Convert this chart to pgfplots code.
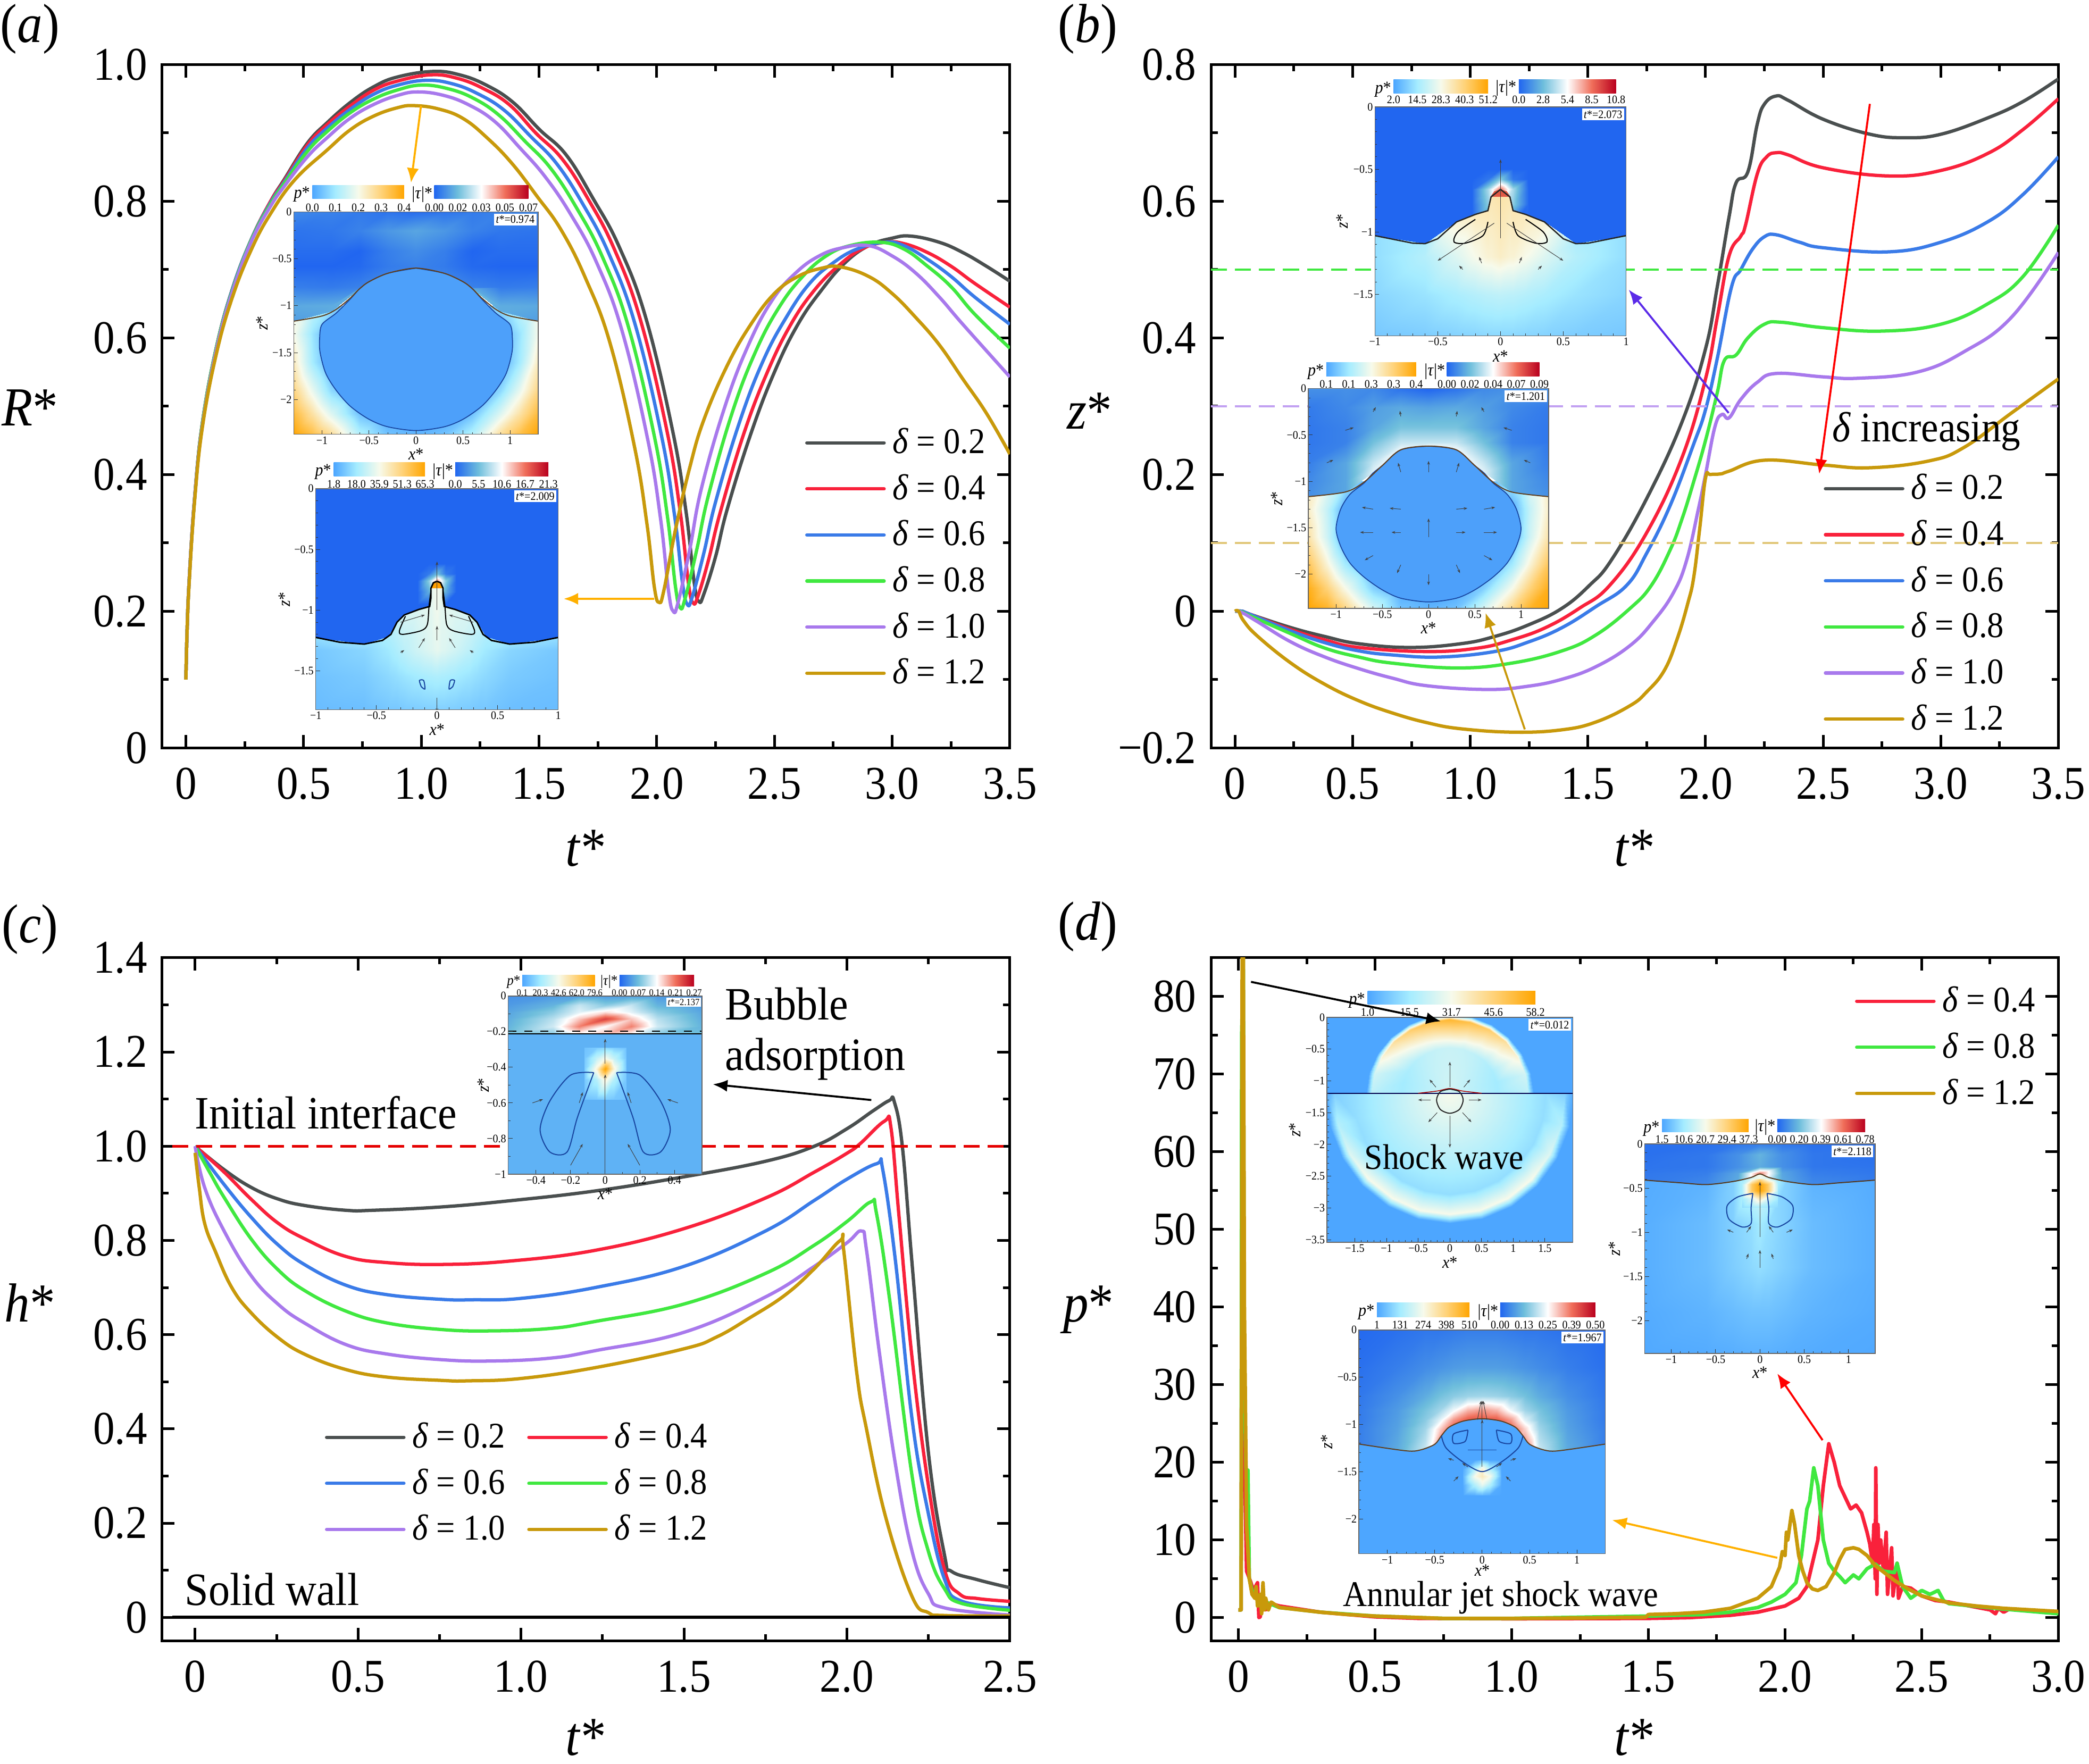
\documentclass[border=0pt]{standalone}
\usepackage{fontspec}
\setmainfont[FakeStretch=0.92]{Liberation Serif}
\usepackage{pgfplots}
\pgfplotsset{compat=1.18}
\usetikzlibrary{arrows.meta}

\definecolor{cg}{RGB}{74,79,79}
\definecolor{cr}{RGB}{249,33,59}
\definecolor{cb}{RGB}{58,123,232}
\definecolor{cv}{RGB}{64,232,64}
\definecolor{cp}{RGB}{168,121,236}
\definecolor{cy}{RGB}{200,153,11}
\definecolor{arrowy}{RGB}{255,176,0}
\definecolor{arrowv}{RGB}{91,43,232}
\definecolor{capred}{RGB}{225,90,70}
\definecolor{pale}{RGB}{95,178,245}
\definecolor{bub}{RGB}{77,160,250}
\definecolor{bubline}{RGB}{25,70,160}
\definecolor{deep}{RGB}{33,102,240}
\definecolor{water}{RGB}{77,166,255}
\definecolor{pa}{RGB}{77,166,255}\definecolor{pb}{RGB}{165,236,255}\definecolor{pc}{RGB}{247,250,235}\definecolor{pd}{RGB}{255,210,120}\definecolor{pe}{RGB}{255,165,0}
\definecolor{ta}{RGB}{33,102,240}\definecolor{tb}{RGB}{110,190,220}\definecolor{tc}{RGB}{255,255,255}\definecolor{td}{RGB}{240,110,90}\definecolor{te}{RGB}{185,0,30}

\pgfdeclarehorizontalshading{pbar}{100bp}{color(0bp)=(pa); color(25bp)=(pa); color(37.5bp)=(pb); color(50bp)=(pc); color(62.5bp)=(pd); color(75bp)=(pe); color(100bp)=(pe)}
\pgfdeclarehorizontalshading{tbar}{100bp}{color(0bp)=(ta); color(25bp)=(ta); color(37.5bp)=(tb); color(50bp)=(tc); color(62.5bp)=(td); color(75bp)=(te); color(100bp)=(te)}

% sizes are given as the width-equivalent size; the condensed face is set taller
\newcommand{\fs}[1]{\pgfmathsetmacro\fsz{#1*1.087}\fontsize{\fsz}{\fsz}\selectfont}
\newcommand{\dl}[1]{\textit{δ} = #1}

\pgfplotsset{
  colormap={pm}{rgb255=(77,166,255) rgb255=(165,236,255) rgb255=(247,250,235) rgb255=(255,210,120) rgb255=(255,165,0)},
  colormap={tm}{rgb255=(33,102,240) rgb255=(110,190,220) rgb255=(255,255,255) rgb255=(240,110,90) rgb255=(185,0,30)},
  box/.code n args={4}{%
    \pgfmathsetmacro\bw{(#2-#1)*0.5}\pgfmathsetmacro\bh{(#4-#3)*0.5}%
    \pgfmathsetmacro\bx{#1*0.5}\pgfmathsetmacro\by{(1323.7-#4)*0.5}%
    \pgfplotsset{at={(\bx pt,\by pt)},width=\bw pt,height=\bh pt}},
  mainax/.style={scale only axis,anchor=south west,
    axis line style={line width=1pt},
    tick style={line width=1pt,black},
    major tick length=4.8pt,minor tick length=2.5pt,tick align=inside,
    tick label style={font=\fs{16.2}},
    xticklabel style={yshift=-4pt},
    yticklabel style={xshift=-2pt},
    legend cell align=left,
    legend image code/.code={\draw[##1,line width=1.25pt,line cap=round] (0pt,0pt) -- (29pt,0pt);},
    every axis x label/.style={at={(axis description cs:0.5,-0.147)},anchor=center,font=\fs{19},inner sep=0pt},
  },
  lg/.style={legend style={draw=none,fill=none,inner sep=0pt,font=\fs{12.5},
    row sep=6.3pt,nodes={inner sep=0pt},at={(#1)},anchor=north west,
    /tikz/every odd column/.append style={column sep=2.5pt}}},
  cu/.style={line width=1.25pt,no markers,smooth,tension=0.7,line join=round},
  nz/.style={line width=1.35pt,no markers,line join=round},
  inset/.style={scale only axis,anchor=south west,axis on top,enlargelimits=false,
    axis line style={line width=.3pt,color=black!60},
    tick style={line width=.2pt,black!80},
    major tick length=1.6pt,minor tick length=.8pt,tick align=inside,
    xtick pos=bottom,ytick pos=left,
    tick label style={font=\fs{4},inner sep=.6pt},
    point meta min=0,point meta max=1,
    every axis x label/.style={at={(axis description cs:0.5,-0.09)},anchor=center,font=\fs{6},inner sep=0pt},
    every axis y label/.style={at={(axis description cs:-0.13,0.5)},anchor=center,rotate=90,font=\fs{6},inner sep=0pt},
    xlabel={\textit{x}*},ylabel={\textit{z}*},
  },
  ps/.style={surf,shader=interp,colormap name=pm,mesh/cols=#1,point meta=explicit},
  ts/.style={surf,shader=interp,colormap name=tm,mesh/cols=#1,point meta=explicit},
  arw/.style={quiver={u=\thisrow{u},v=\thisrow{v}},-{Stealth[length=1.4pt,width=1pt]},line width=.2pt,black!75,no markers},
  lb/.style={line width=.4pt,bubline,no markers,smooth},
  lk/.style={line width=.4pt,black,no markers,smooth},
  fl/.style={draw=none,fill=#1,no markers},
}

% bar: x0 x1 y0 y1 shading, tick labels at y
\newcommand{\lbl}{4}
\newcommand{\cbar}[7]{%
  \shade[shading=#5] (#1,#3) rectangle (#2,#4);
  \foreach \v [count=\i] in {#7}{\pgfmathsetmacro\xx{#1+(#2-#1)*(\i-1)/4}
    \node[font=\fs{\lbl},inner sep=0pt] at (\xx,#6) {\v};}}

\begin{document}
\begin{tikzpicture}
\path[use as bounding box] (0,0) rectangle (784pt,661.85pt);

% ---------- (a)
\begin{axis}[mainax,lg={0.758,0.4687},box={121.5}{758}{48.5}{561.4},
  xmin=-0.102,xmax=3.5,ymin=0,ymax=1,
  xtick={0,0.5,1,1.5,2,2.5,3,3.5},xticklabels={0,0.5,1.0,1.5,2.0,2.5,3.0,3.5},
  ytick={0,0.2,0.4,0.6,0.8,1},yticklabels={0,0.2,0.4,0.6,0.8,1.0},
  minor x tick num=1,minor y tick num=1,
  xlabel={\textit{t}*},
  ylabel={\textit{R}*},
  every axis y label/.style={at={(axis description cs:-0.1555,0.498)},anchor=center,font=\fs{19},inner sep=0pt},
  legend entries={\dl{0.2},\dl{0.4},\dl{0.6},\dl{0.8},\dl{1.0},\dl{1.2}},
]
\addplot[cu,cg] coordinates {(0,.1)(.005,.17)(.014,.245)(.037,.365)(.07,.475)(.129,.585)(.198,.672)(.279,.745)(.36,.8)(.418,.832)(.516,.885)(.6,.915)(.7,.945)(.8,.968)(.9,.982)(1.05,.99)(1.163,.985)(1.276,.97)(1.389,.945)(1.502,.905)(1.615,.868)(1.728,.805)(1.841,.733)(1.954,.629)(2.067,.465)(2.124,.347)(2.16,.24)(2.18,.214)(2.2,.225)(2.25,.28)(2.3,.35)(2.4,.46)(2.5,.55)(2.6,.62)(2.7,.67)(2.8,.71)(2.9,.735)(3,.746)(3.08,.749)(3.2,.74)(3.3,.725)(3.4,.705)(3.5,.683)};
\addplot[cu,cr] coordinates {(0,.1)(.005,.17)(.014,.245)(.037,.365)(.07,.475)(.129,.585)(.198,.672)(.279,.745)(.36,.8)(.418,.83)(.516,.882)(.6,.912)(.7,.94)(.8,.963)(.9,.976)(1.04,.985)(1.152,.98)(1.263,.965)(1.375,.941)(1.486,.9)(1.598,.862)(1.709,.803)(1.821,.729)(1.932,.625)(2.044,.463)(2.1,.345)(2.135,.24)(2.155,.212)(2.175,.222)(2.22,.275)(2.27,.345)(2.37,.46)(2.47,.55)(2.57,.62)(2.67,.67)(2.77,.705)(2.87,.73)(2.97,.74)(3.05,.738)(3.15,.725)(3.25,.705)(3.35,.68)(3.5,.645)};
\addplot[cu,cb] coordinates {(0,.1)(.005,.17)(.014,.245)(.037,.365)(.07,.475)(.129,.585)(.198,.672)(.279,.745)(.36,.798)(.418,.828)(.516,.878)(.6,.907)(.7,.935)(.8,.957)(.9,.97)(1.02,.977)(1.131,.972)(1.242,.957)(1.353,.933)(1.464,.895)(1.575,.855)(1.686,.796)(1.797,.723)(1.908,.62)(2.019,.459)(2.075,.342)(2.11,.24)(2.13,.21)(2.15,.22)(2.2,.285)(2.25,.36)(2.35,.475)(2.45,.565)(2.55,.63)(2.65,.68)(2.75,.71)(2.85,.73)(2.97,.74)(3.05,.735)(3.15,.715)(3.25,.69)(3.35,.66)(3.5,.62)};
\addplot[cu,cv] coordinates {(0,.1)(.005,.17)(.014,.245)(.037,.365)(.07,.475)(.129,.585)(.198,.67)(.279,.744)(.36,.796)(.418,.826)(.516,.873)(.6,.902)(.7,.93)(.8,.95)(.9,.963)(1,.97)(1.11,.965)(1.22,.951)(1.33,.926)(1.44,.888)(1.55,.848)(1.66,.79)(1.77,.718)(1.88,.616)(1.99,.456)(2.045,.34)(2.08,.235)(2.1,.205)(2.12,.218)(2.17,.29)(2.22,.37)(2.32,.49)(2.42,.58)(2.52,.645)(2.62,.69)(2.72,.72)(2.82,.735)(2.95,.74)(3.05,.73)(3.15,.705)(3.25,.675)(3.35,.635)(3.5,.585)};
\addplot[cu,cp] coordinates {(0,.1)(.005,.17)(.014,.245)(.037,.365)(.07,.472)(.129,.582)(.198,.668)(.279,.742)(.36,.793)(.418,.822)(.516,.865)(.6,.893)(.7,.922)(.8,.942)(.9,.955)(.985,.96)(1.094,.955)(1.202,.941)(1.311,.917)(1.419,.878)(1.528,.835)(1.636,.78)(1.745,.71)(1.853,.61)(1.962,.451)(2.016,.336)(2.05,.23)(2.07,.2)(2.09,.212)(2.14,.29)(2.19,.38)(2.29,.5)(2.39,.59)(2.49,.655)(2.59,.695)(2.69,.72)(2.79,.732)(2.9,.735)(3,.72)(3.1,.695)(3.2,.66)(3.3,.62)(3.5,.543)};
\addplot[cu,cy] coordinates {(0,.1)(.005,.17)(.014,.242)(.037,.361)(.07,.469)(.129,.576)(.198,.66)(.279,.73)(.36,.782)(.464,.832)(.6,.875)(.7,.905)(.8,.925)(.9,.937)(.97,.94)(1.074,.935)(1.178,.921)(1.282,.892)(1.386,.855)(1.49,.808)(1.594,.758)(1.698,.687)(1.802,.592)(1.906,.44)(1.958,.329)(1.99,.235)(2.01,.213)(2.03,.23)(2.08,.32)(2.14,.41)(2.2,.48)(2.3,.56)(2.4,.62)(2.5,.665)(2.6,.69)(2.7,.702)(2.78,.704)(2.9,.69)(3,.665)(3.1,.63)(3.2,.59)(3.3,.54)(3.4,.49)(3.5,.43)};
\end{axis}

% inset t*=0.974
\begin{axis}[inset,box={220.5}{404}{159}{326},xmin=-1.3,xmax=1.3,ymin=-2.37,ymax=0,
  xtick={-1,-.5,0,.5,1},xticklabels={−1,−0.5,0,0.5,1},
  ytick={0,-.5,-1,-1.5,-2},yticklabels={0,−0.5,−1,−1.5,−2},minor x tick num=4,minor y tick num=4]
\addplot[ps=11] coordinates {
(-1.3,-1)[.5](-1.1,-1)[.35](-.9,-1)[.2](-.6,-1)[0](-.3,-1)[0](0,-1)[0](.3,-1)[0](.6,-1)[0](.9,-1)[.2](1.1,-1)[.35](1.3,-1)[.5]
(-1.3,-1.3)[.5](-1.1,-1.3)[.22](-.9,-1.3)[.02](-.6,-1.3)[0](-.3,-1.3)[0](0,-1.3)[0](.3,-1.3)[0](.6,-1.3)[0](.9,-1.3)[.02](1.1,-1.3)[.22](1.3,-1.3)[.5]
(-1.3,-1.6)[.6](-1.1,-1.6)[.25](-.9,-1.6)[.02](-.6,-1.6)[0](-.3,-1.6)[0](0,-1.6)[0](.3,-1.6)[0](.6,-1.6)[0](.9,-1.6)[.02](1.1,-1.6)[.25](1.3,-1.6)[.6]
(-1.3,-1.9)[.73](-1.1,-1.9)[.45](-.9,-1.9)[.18](-.6,-1.9)[0](-.3,-1.9)[0](0,-1.9)[0](.3,-1.9)[0](.6,-1.9)[0](.9,-1.9)[.18](1.1,-1.9)[.45](1.3,-1.9)[.73]
(-1.3,-2.15)[.88](-1.1,-2.15)[.65](-.9,-2.15)[.42](-.6,-2.15)[.1](-.3,-2.15)[0](0,-2.15)[0](.3,-2.15)[0](.6,-2.15)[.1](.9,-2.15)[.42](1.1,-2.15)[.65](1.3,-2.15)[.88]
(-1.3,-2.37)[1](-1.1,-2.37)[.85](-.9,-2.37)[.68](-.6,-2.37)[.3](-.3,-2.37)[.1](0,-2.37)[.05](.3,-2.37)[.1](.6,-2.37)[.3](.9,-2.37)[.68](1.1,-2.37)[.85](1.3,-2.37)[1]
};
\addplot[ts=9] coordinates {
(-1.3,0)[.1](-.9,0)[.08](-.6,0)[.06](-.3,0)[.04](0,0)[.02](.3,0)[.04](.6,0)[.06](.9,0)[.08](1.3,0)[.1]
(-1.3,-.2)[.04](-.9,-.2)[.05](-.6,-.2)[.08](-.3,-.2)[.14](0,-.2)[.18](.3,-.2)[.14](.6,-.2)[.08](.9,-.2)[.05](1.3,-.2)[.04]
(-1.3,-.42)[.02](-.9,-.42)[.02](-.6,-.42)[0](-.3,-.42)[.07](0,-.42)[.11](.3,-.42)[.07](.6,-.42)[0](.9,-.42)[.02](1.3,-.42)[.02]
(-1.3,-.58)[0](-.9,-.58)[0](-.6,-.58)[.01](-.3,-.58)[.06](0,-.58)[.08](.3,-.58)[.06](.6,-.58)[.01](.9,-.58)[0](1.3,-.58)[0]
(-1.3,-.8)[.07](-.9,-.8)[.06](-.6,-.8)[.08](-.3,-.655)[.08](0,-.6)[.08](.3,-.655)[.08](.6,-.8)[.08](.9,-.8)[.06](1.3,-.8)[.07]
(-1.3,-1)[.19](-.9,-1)[.2](-.6,-.82)[.2](-.3,-.655)[.08](0,-.6)[.08](.3,-.655)[.08](.6,-.82)[.2](.9,-1)[.2](1.3,-1)[.19]
(-1.3,-1.165)[.16](-.9,-1.06)[.2](-.6,-.82)[.25](-.3,-.655)[.08](0,-.6)[.08](.3,-.655)[.08](.6,-.82)[.25](.9,-1.06)[.2](1.3,-1.165)[.16]
};
\addplot[fill=bub,draw=bubline,line width=.35pt,no markers,smooth,tension=.5] coordinates {(0,-.6)(.3,-.655)(.5,-.745)(.6,-.82)(.7,-.93)(.85,-1.08)(1,-1.2)(1.025,-1.35)(1.02,-1.5)(.96,-1.72)(.85,-1.9)(.7,-2.07)(.5,-2.21)(.3,-2.29)(0,-2.33)(-.3,-2.29)(-.5,-2.21)(-.7,-2.07)(-.85,-1.9)(-.96,-1.72)(-1.02,-1.5)(-1.025,-1.35)(-1,-1.2)(-.85,-1.08)(-.7,-.93)(-.6,-.82)(-.5,-.745)(-.3,-.655)(0,-.6)};
\addplot[line width=.4pt,color=black!50!brown,no markers,smooth] coordinates {(-1.3,-1.165)(-1,-1.11)(-.85,-1.04)(-.7,-.92)(-.6,-.82)(-.5,-.745)(-.3,-.655)(0,-.6)(.3,-.655)(.5,-.745)(.6,-.82)(.7,-.92)(.85,-1.04)(1,-1.11)(1.3,-1.165)};
\end{axis}

% inset t*=2.009
\begin{axis}[inset,box={237}{419}{366.8}{532.7},xmin=-1,xmax=1,ymin=-1.82,ymax=0,
  xtick={-1,-.5,0,.5,1},xticklabels={−1,−0.5,0,0.5,1},
  ytick={0,-.5,-1,-1.5},yticklabels={0,−0.5,−1,−1.5},minor x tick num=4,minor y tick num=4]
\addplot[fl=deep] coordinates {(-1,0)(1,0)(1,-1.4)(-1,-1.4)};
\addplot[ts=5] coordinates {
(-.16,-.62)[0](-.07,-.62)[0](0,-.62)[0](.07,-.62)[0](.16,-.62)[0]
(-.16,-.7)[0](-.07,-.7)[.06](0,-.7)[.25](.07,-.7)[.06](.16,-.7)[0]
(-.16,-.76)[0](-.07,-.76)[.3](0,-.76)[.68](.07,-.76)[.3](.16,-.76)[0]
(-.16,-.85)[0](-.07,-.85)[.2](0,-.85)[.5](.07,-.85)[.2](.16,-.85)[0]
(-.16,-.95)[0](-.07,-.95)[0](0,-.95)[0](.07,-.95)[0](.16,-.95)[0]
};
\addplot[ps=17] coordinates {
(-1,-1.225)[.2](-.6,-1.28)[.22](-.4,-1.22)[.28](-.33,-1.1)[.35](-.27,-1.04)[.4](-.15,-.995)[.42](-.06,-.97)[.45](-.045,-.82)[.45](0,-.763)[.5](.045,-.82)[.45](.06,-.97)[.45](.15,-.995)[.42](.27,-1.04)[.4](.33,-1.1)[.35](.4,-1.22)[.28](.6,-1.28)[.22](1,-1.225)[.2]
(-1,-1.33)[.12](-.6,-1.33)[.17](-.4,-1.33)[.24](-.33,-1.33)[.28](-.27,-1.33)[.32](-.15,-1.33)[.38](-.06,-1.33)[.42](-.045,-1.33)[.42](0,-1.33)[.45](.045,-1.33)[.42](.06,-1.33)[.42](.15,-1.33)[.38](.27,-1.33)[.32](.33,-1.33)[.28](.4,-1.33)[.24](.6,-1.33)[.17](1,-1.33)[.12]
(-1,-1.55)[.1](-.6,-1.55)[.13](-.4,-1.55)[.18](-.33,-1.55)[.2](-.27,-1.55)[.22](-.15,-1.55)[.25](-.06,-1.55)[.27](-.045,-1.55)[.27](0,-1.55)[.28](.045,-1.55)[.27](.06,-1.55)[.27](.15,-1.55)[.25](.27,-1.55)[.22](.33,-1.55)[.2](.4,-1.55)[.18](.6,-1.55)[.13](1,-1.55)[.1]
(-1,-1.82)[.08](-.6,-1.82)[.09](-.4,-1.82)[.12](-.33,-1.82)[.12](-.27,-1.82)[.13](-.15,-1.82)[.14](-.06,-1.82)[.15](-.045,-1.82)[.15](0,-1.82)[.15](.045,-1.82)[.15](.06,-1.82)[.15](.15,-1.82)[.14](.27,-1.82)[.13](.33,-1.82)[.12](.4,-1.82)[.12](.6,-1.82)[.09](1,-1.82)[.08]
};
\addplot[fl=orange!75!yellow] coordinates {(-.045,-.82)(-.03,-.78)(0,-.763)(.03,-.78)(.045,-.82)};
\addplot[line width=.55pt,black,no markers] coordinates {(-1,-1.225)(-.8,-1.265)(-.6,-1.28)(-.45,-1.25)(-.38,-1.2)(-.33,-1.1)(-.27,-1.04)(-.15,-.995)(-.06,-.97)(-.05,-.9)(-.05,-.82)(-.03,-.775)(0,-.763)(.03,-.775)(.05,-.82)(.05,-.9)(.06,-.97)(.15,-.995)(.27,-1.04)(.33,-1.1)(.38,-1.2)(.45,-1.25)(.6,-1.28)(.8,-1.265)(1,-1.225)};
\addplot[lk] coordinates {(.05,-.84)(.065,-.96)(.08,-1.12)(.133,-1.17)(.284,-1.2)(.31,-1.17)(.26,-1.05)};
\addplot[lk] coordinates {(-.05,-.84)(-.065,-.96)(-.08,-1.12)(-.133,-1.17)(-.284,-1.2)(-.31,-1.17)(-.26,-1.05)};
\addplot[lb] coordinates {(-.13,-1.63)(-.145,-1.58)(-.11,-1.58)(-.1,-1.65)(-.13,-1.63)};
\addplot[lb] coordinates {(.13,-1.63)(.145,-1.58)(.11,-1.58)(.1,-1.65)(.13,-1.63)};
\addplot[arw] table {
x y u v
0 -1.0 0 .4
0 -1.25 0 .12
0 -1.72 0 -.12
-.15 -1.31 .05 .08
.15 -1.31 -.05 .08
-.3 -1.1 .2 .06
.3 -1.1 -.2 .06
-.3 -1.35 .03 .02
.3 -1.35 -.03 .02
};
\end{axis}

% ---------- (b)
\begin{axis}[mainax,lg={0.7225,0.4016},box={909}{1545}{48.5}{561.4},
  xmin=-0.102,xmax=3.5,ymin=-0.2,ymax=0.8,
  xtick={0,0.5,1,1.5,2,2.5,3,3.5},xticklabels={0,0.5,1.0,1.5,2.0,2.5,3.0,3.5},
  ytick={-0.2,0,0.2,0.4,0.6,0.8},yticklabels={−0.2,0,0.2,0.4,0.6,0.8},
  minor x tick num=1,minor y tick num=1,
  xlabel={\textit{t}*},
  ylabel={\textit{z}*},
  every axis y label/.style={at={(axis description cs:-0.1431,0.493)},anchor=center,font=\fs{19},inner sep=0pt},
  legend entries={\dl{0.2},\dl{0.4},\dl{0.6},\dl{0.8},\dl{1.0},\dl{1.2}},
]
\addplot[cu,cg] coordinates {(0,0)(.03,0)(.06,-.004)(.238,-.024)(.382,-.037)(.526,-.0475)(.743,-.053)(.96,-.0475)(1.103,-.037)(1.247,-.02)(1.39,.0044)(1.507,.038)(1.6,.075)(1.75,.165)(1.9,.277)(2,.384)(2.05,.475)(2.1,.577)(2.13,.627)(2.18,.643)(2.22,.713)(2.25,.742)(2.3,.754)(2.35,.748)(2.5,.72)(2.7,.698)(2.85,.693)(3,.698)(3.2,.722)(3.35,.746)(3.5,.779)};
\addplot[cu,cr] coordinates {(0,0)(.03,0)(.06,-.004)(.238,-.027)(.382,-.042)(.526,-.053)(.815,-.059)(1.03,-.054)(1.175,-.042)(1.32,-.024)(1.464,.0044)(1.593,.038)(1.75,.115)(1.9,.225)(2,.34)(2.05,.43)(2.1,.52)(2.15,.549)(2.17,.565)(2.22,.64)(2.26,.665)(2.3,.671)(2.35,.668)(2.5,.649)(2.78,.637)(3,.645)(3.2,.67)(3.35,.705)(3.5,.75)};
\addplot[cu,cb] coordinates {(0,0)(.03,0)(.06,-.004)(.238,-.029)(.382,-.046)(.526,-.058)(.67,-.064)(.872,-.067)(1.103,-.059)(1.247,-.045)(1.39,-.024)(1.535,.007)(1.665,.038)(1.75,.085)(1.85,.155)(1.95,.245)(2,.295)(2.05,.37)(2.11,.474)(2.15,.5)(2.2,.53)(2.25,.548)(2.3,.551)(2.4,.54)(2.5,.532)(2.78,.526)(3,.54)(3.2,.57)(3.35,.61)(3.5,.665)};
\addplot[cu,cv] coordinates {(0,0)(.03,-.001)(.06,-.006)(.238,-.033)(.382,-.054)(.526,-.067)(.67,-.076)(.944,-.083)(1.175,-.076)(1.39,-.058)(1.535,-.0345)(1.68,.0044)(1.77,.038)(1.85,.09)(1.9,.135)(1.95,.19)(2,.25)(2.05,.32)(2.08,.367)(2.13,.375)(2.18,.4)(2.25,.42)(2.32,.423)(2.5,.415)(2.75,.41)(3,.42)(3.2,.45)(3.35,.49)(3.5,.565)};
\addplot[cu,cp] coordinates {(0,0)(.03,-.002)(.094,-.015)(.238,-.045)(.382,-.067)(.526,-.084)(.67,-.098)(.815,-.109)(1.07,-.1145)(1.24,-.11)(1.39,-.0995)(1.535,-.081)(1.68,-.05)(1.78,-.014)(1.865,.028)(1.92,.075)(1.97,.15)(2,.2)(2.04,.27)(2.07,.288)(2.1,.283)(2.15,.31)(2.22,.335)(2.3,.348)(2.5,.343)(2.65,.341)(2.9,.35)(3.1,.38)(3.3,.43)(3.5,.525)};
\addplot[cu,cy] coordinates {(0,0)(.015,0)(.036,-.0138)(.094,-.036)(.238,-.076)(.382,-.107)(.526,-.131)(.67,-.149)(.815,-.163)(.96,-.172)(1.19,-.177)(1.39,-.1735)(1.535,-.162)(1.68,-.138)(1.75,-.118)(1.825,-.0865)(1.88,-.04)(1.925,.012)(1.95,.05)(1.975,.12)(2,.195)(2.02,.2)(2.065,.201)(2.1,.205)(2.25,.221)(2.5,.214)(2.7,.21)(2.95,.22)(3.1,.24)(3.3,.29)(3.5,.34)};
\addplot[line width=.9pt,dash pattern=on 6pt off 3pt,color=cv,forget plot] coordinates {(-.102,.5)(3.5,.5)};
\addplot[line width=.9pt,dash pattern=on 6pt off 3pt,color=cp!70!white,forget plot] coordinates {(-.102,.3)(3.5,.3)};
\addplot[line width=.9pt,dash pattern=on 6pt off 3pt,color=cy!55!white,forget plot] coordinates {(-.102,.1)(3.5,.1)};
\end{axis}

% inset t*=2.073
\begin{axis}[inset,box={1032}{1220.5}{80.2}{252},xmin=-1,xmax=1,ymin=-1.83,ymax=0,
  xtick={-1,-.5,0,.5,1},xticklabels={−1,−0.5,0,0.5,1},
  ytick={0,-.5,-1,-1.5},yticklabels={0,−0.5,−1,−1.5},minor x tick num=4,minor y tick num=4]
\addplot[fl=deep] coordinates {(-1,0)(1,0)(1,-1.2)(-1,-1.2)};
\addplot[ts=5] coordinates {
(-.22,-.5)[0](-.1,-.5)[0](0,-.5)[0](.1,-.5)[0](.22,-.5)[0]
(-.22,-.58)[0](-.1,-.58)[.05](0,-.58)[.3](.1,-.58)[.05](.22,-.58)[0]
(-.22,-.66)[.02](-.1,-.66)[.35](0,-.66)[.75](.1,-.66)[.35](.22,-.66)[.02]
(-.22,-.78)[.02](-.1,-.78)[.3](0,-.78)[.5](.1,-.78)[.3](.22,-.78)[.02]
(-.22,-.95)[0](-.1,-.95)[0](0,-.95)[0](.1,-.95)[0](.22,-.95)[0]
};
\addplot[ps=13] coordinates {
(-1,-1.03)[.2](-.6,-1.094)[.28](-.35,-.92)[.55](-.2,-.86)[.6](-.1,-.83)[.62](-.075,-.72)[.62](0,-.66)[.65](.075,-.72)[.62](.1,-.83)[.62](.2,-.86)[.6](.35,-.92)[.55](.6,-1.094)[.28](1,-1.03)[.2]
(-1,-1.2)[.2](-.6,-1.2)[.3](-.35,-1.2)[.42](-.2,-1.2)[.5](-.1,-1.2)[.55](-.075,-1.2)[.55](0,-1.2)[.58](.075,-1.2)[.55](.1,-1.2)[.55](.2,-1.2)[.5](.35,-1.2)[.42](.6,-1.2)[.3](1,-1.2)[.2]
(-1,-1.5)[.17](-.6,-1.5)[.22](-.35,-1.5)[.27](-.2,-1.5)[.3](-.1,-1.5)[.32](-.075,-1.5)[.32](0,-1.5)[.33](.075,-1.5)[.32](.1,-1.5)[.32](.2,-1.5)[.3](.35,-1.5)[.27](.6,-1.5)[.22](1,-1.5)[.17]
(-1,-1.83)[.12](-.6,-1.83)[.14](-.35,-1.83)[.16](-.2,-1.83)[.17](-.1,-1.83)[.18](-.075,-1.83)[.18](0,-1.83)[.18](.075,-1.83)[.18](.1,-1.83)[.18](.2,-1.83)[.17](.35,-1.83)[.16](.6,-1.83)[.14](1,-1.83)[.12]
};
\addplot[fl=capred] coordinates {(-.08,-.72)(-.05,-.675)(0,-.66)(.05,-.675)(.08,-.72)};
\addplot[line width=.5pt,black!85,no markers] coordinates {(-1,-1.03)(-.7,-1.09)(-.6,-1.094)(-.5,-1.055)(-.35,-.92)(-.2,-.86)(-.1,-.83)(-.075,-.72)(0,-.66)(.075,-.72)(.1,-.83)(.2,-.86)(.35,-.92)(.5,-1.055)(.6,-1.094)(.7,-1.09)(1,-1.03)};
\addplot[lk] coordinates {(.1,-.92)(.14,-1.03)(.28,-1.09)(.37,-1.08)(.34,-1)(.2,-.9)};
\addplot[lk] coordinates {(-.1,-.92)(-.14,-1.03)(-.28,-1.09)(-.37,-1.08)(-.34,-1)(-.2,-.9)};
\addplot[arw] table {
x y u v
0 -1.05 0 .63
.05 -.93 .45 -.3
-.05 -.93 -.45 -.3
.15 -1.25 .02 .05
-.15 -1.25 -.02 .05
.3 -1.3 .03 .03
-.3 -1.3 -.03 .03
};
\end{axis}

% inset t*=1.201
\begin{axis}[inset,box={982}{1162.5}{291.7}{456.7},xmin=-1.3,xmax=1.3,ymin=-2.37,ymax=0,
  xtick={-1,-.5,0,.5,1},xticklabels={−1,−0.5,0,0.5,1},
  ytick={0,-.5,-1,-1.5,-2},yticklabels={0,−0.5,−1,−1.5,−2},minor x tick num=4,minor y tick num=4]
\addplot[ps=11] coordinates {
(-1.3,-1)[.6](-1.1,-1)[.45](-.9,-1)[.25](-.6,-1)[0](-.3,-1)[0](0,-1)[0](.3,-1)[0](.6,-1)[0](.9,-1)[.25](1.1,-1)[.45](1.3,-1)[.6]
(-1.3,-1.3)[.58](-1.1,-1.3)[.35](-.9,-1.3)[.02](-.6,-1.3)[0](-.3,-1.3)[0](0,-1.3)[0](.3,-1.3)[0](.6,-1.3)[0](.9,-1.3)[.02](1.1,-1.3)[.35](1.3,-1.3)[.58]
(-1.3,-1.6)[.65](-1.1,-1.6)[.38](-.9,-1.6)[.02](-.6,-1.6)[0](-.3,-1.6)[0](0,-1.6)[0](.3,-1.6)[0](.6,-1.6)[0](.9,-1.6)[.02](1.1,-1.6)[.38](1.3,-1.6)[.65]
(-1.3,-1.9)[.82](-1.1,-1.9)[.55](-.9,-1.9)[.25](-.6,-1.9)[0](-.3,-1.9)[0](0,-1.9)[0](.3,-1.9)[0](.6,-1.9)[0](.9,-1.9)[.25](1.1,-1.9)[.55](1.3,-1.9)[.82]
(-1.3,-2.15)[.95](-1.1,-2.15)[.75](-.9,-2.15)[.5](-.6,-2.15)[.15](-.3,-2.15)[0](0,-2.15)[0](.3,-2.15)[0](.6,-2.15)[.15](.9,-2.15)[.5](1.1,-2.15)[.75](1.3,-2.15)[.95]
(-1.3,-2.37)[1](-1.1,-2.37)[.92](-.9,-2.37)[.72](-.6,-2.37)[.4](-.3,-2.37)[.1](0,-2.37)[.05](.3,-2.37)[.1](.6,-2.37)[.4](.9,-2.37)[.72](1.1,-2.37)[.92](1.3,-2.37)[1]
};
\addplot[ts=9] coordinates {
(-1.3,0)[.12](-.9,0)[.12](-.6,0)[.1](-.3,0)[.04](0,0)[0](.3,0)[.04](.6,0)[.1](.9,0)[.12](1.3,0)[.12]
(-1.3,-.2)[.06](-.9,-.2)[.1](-.6,-.2)[.16](-.3,-.2)[.19](0,-.2)[.17](.3,-.2)[.19](.6,-.2)[.16](.9,-.2)[.1](1.3,-.2)[.06]
(-1.3,-.42)[.05](-.9,-.42)[.08](-.6,-.42)[.18](-.3,-.42)[.27](0,-.42)[.27](.3,-.42)[.27](.6,-.42)[.18](.9,-.42)[.08](1.3,-.42)[.05]
(-1.3,-.58)[.05](-.9,-.58)[.08](-.6,-.58)[.26](-.3,-.58)[.4](0,-.58)[.4](.3,-.58)[.4](.6,-.58)[.26](.9,-.58)[.08](1.3,-.58)[.05]
(-1.3,-.8)[.07](-.9,-.8)[.18](-.6,-.8)[.4](-.3,-.66)[.48](0,-.62)[.48](.3,-.66)[.48](.6,-.8)[.4](.9,-.8)[.18](1.3,-.8)[.07]
(-1.3,-1)[.1](-.9,-1)[.18](-.6,-.9)[.45](-.3,-.66)[.48](0,-.62)[.48](.3,-.66)[.48](.6,-.9)[.45](.9,-1)[.18](1.3,-1)[.1]
(-1.3,-1.165)[.12](-.9,-1.115)[.18](-.6,-.9)[.45](-.3,-.66)[.48](0,-.62)[.48](.3,-.66)[.48](.6,-.9)[.45](.9,-1.115)[.18](1.3,-1.165)[.12]
};
\addplot[fill=bub,draw=bubline,line width=.35pt,no markers,smooth,tension=.5] coordinates {(0,-.62)(.3,-.66)(.5,-.83)(.6,-.91)(.7,-1.02)(.85,-1.14)(.95,-1.3)(1,-1.51)(.95,-1.7)(.85,-1.88)(.7,-2.03)(.5,-2.17)(.3,-2.26)(0,-2.3)(-.3,-2.26)(-.5,-2.17)(-.7,-2.03)(-.85,-1.88)(-.95,-1.7)(-1,-1.51)(-.95,-1.3)(-.85,-1.14)(-.7,-1.02)(-.6,-.91)(-.5,-.83)(-.3,-.66)(0,-.62)};
\addplot[line width=.4pt,color=black!50!brown,no markers,smooth] coordinates {(-1.3,-1.165)(-.9,-1.115)(-.7,-1.01)(-.5,-.83)(-.3,-.66)(0,-.62)(.3,-.66)(.5,-.83)(.7,-1.01)(.9,-1.115)(1.3,-1.165)};
\addplot[arw] table {
x y u v
0 -.9 0 .12
.3 -.9 .03 .1
-.3 -.9 -.03 .1
.6 -1.3 .12 .02
-.6 -1.3 -.12 .02
.3 -1.3 .12 .01
-.3 -1.3 -.12 .01
.6 -1.55 .14 0
-.6 -1.55 -.14 0
.3 -1.55 .1 0
-.3 -1.55 -.1 0
.6 -1.8 .09 -.05
-.6 -1.8 -.09 -.05
.3 -1.9 .04 -.09
-.3 -1.9 -.04 -.09
0 -2 0 -.12
0 -1.6 0 .2
.6 -.25 -.03 .05
-.6 -.25 .03 .05
.9 -.45 -.09 .03
-.9 -.45 .09 .03
1.1 -.8 -.07 .03
-1.1 -.8 .07 .03
.3 -.3 .01 .06
-.3 -.3 -.01 .06
};
\end{axis}

% ---------- (c)
\begin{axis}[mainax,lg={0.1917,0.3203},legend columns=2,box={121.5}{758}{718.9}{1231.7},
  xmin=-0.102,xmax=2.5,ymin=-0.05,ymax=1.4,
  xtick={0,0.5,1,1.5,2,2.5},xticklabels={0,0.5,1.0,1.5,2.0,2.5},
  ytick={0,0.2,0.4,0.6,0.8,1,1.2,1.4},yticklabels={0,0.2,0.4,0.6,0.8,1.0,1.2,1.4},
  minor x tick num=1,minor y tick num=1,
  xlabel={\textit{t}*},
  every axis x label/.append style={at={(axis description cs:0.5,-0.141)}},
  ylabel={\textit{h}*},
  every axis y label/.style={at={(axis description cs:-0.1555,0.495)},anchor=center,font=\fs{19},inner sep=0pt},
  legend entries={\dl{0.2},\dl{0.4},\dl{0.6},\dl{0.8},\dl{1.0},\dl{1.2}},
  legend style={/tikz/every even column/.append style={column sep=8.25pt}},
]
\addplot[cu,cg] coordinates {(0,1)(.0875,.951)(.171,.913)(.254,.888)(.3375,.874)(.4625,.864)(.546,.864)(.754,.871)(.9625,.884)(1.2275,.905)(1.5,.935)(1.75,.968)(1.9,1)(2,1.037)(2.08,1.075)(2.13,1.097)(2.145,1.095)(2.17,1)(2.2,.75)(2.25,.35)(2.3,.13)(2.32,.098)(2.4,.08)(2.5,.063)};
\addplot[cu,cr] coordinates {(0,1)(.0875,.946)(.171,.888)(.254,.837)(.3375,.803)(.4625,.766)(.5875,.753)(.754,.749)(.9625,.756)(1.2275,.779)(1.5,.825)(1.75,.89)(1.9,.945)(2,.985)(2.04,1.005)(2.115,1.053)(2.135,1.04)(2.16,.85)(2.2,.55)(2.25,.28)(2.3,.1)(2.345,.05)(2.4,.04)(2.5,.034)};
\addplot[cu,cb] coordinates {(0,1)(.0875,.92)(.171,.85)(.254,.791)(.3375,.748)(.4625,.705)(.5875,.685)(.754,.675)(.854,.674)(1,.677)(1.2275,.7)(1.5,.745)(1.75,.82)(1.9,.885)(2,.93)(2.092,.963)(2.11,.95)(2.15,.75)(2.2,.42)(2.25,.22)(2.3,.08)(2.35,.035)(2.5,.02)};
\addplot[cu,cv] coordinates {(0,1)(.046,.943)(.0875,.893)(.171,.804)(.254,.738)(.3375,.693)(.4625,.65)(.5875,.625)(.754,.611)(.904,.608)(1.0875,.613)(1.2275,.628)(1.5,.665)(1.75,.73)(1.9,.79)(2,.84)(2.074,.882)(2.09,.86)(2.13,.68)(2.2,.3)(2.25,.14)(2.3,.06)(2.35,.03)(2.5,.015)};
\addplot[cu,cp] coordinates {(0,1)(.029,.913)(.0875,.822)(.171,.726)(.254,.665)(.3375,.624)(.4625,.579)(.5875,.559)(.754,.547)(.904,.544)(1.0875,.55)(1.2275,.566)(1.5,.605)(1.75,.68)(1.9,.745)(2,.795)(2.045,.82)(2.06,.78)(2.1,.56)(2.15,.32)(2.2,.14)(2.25,.05)(2.3,.02)(2.5,.005)};
\addplot[cu,cy] coordinates {(0,.986)(.0125,.913)(.029,.837)(.0625,.776)(.1125,.7)(.171,.647)(.254,.594)(.3375,.558)(.4625,.526)(.5875,.51)(.754,.503)(.8375,.502)(1,.507)(1.2275,.53)(1.5,.57)(1.6,.595)(1.7,.635)(1.81,.684)(1.9,.74)(1.98,.8)(1.99,.78)(2.03,.52)(2.06,.4)(2.12,.21)(2.2,.044)(2.25,.01)(2.3,.004)(2.5,.003)};
\addplot[line width=.9pt,dash pattern=on 6pt off 3pt,color=red!90!black,forget plot] coordinates {(-.07,1)(2.5,1)};
\addplot[line width=1.1pt,black,forget plot] coordinates {(-.07,0)(2.5,0)};
\end{axis}

% inset t*=2.137
\begin{axis}[inset,box={381.5}{527}{747.6}{881.4},xmin=-.56,xmax=.56,ymin=-1,ymax=0,
  every axis x label/.append style={at={(axis description cs:0.5,-0.11)}},
  xtick={-.4,-.2,0,.2,.4},xticklabels={−0.4,−0.2,0,0.2,0.4},
  ytick={0,-.2,-.4,-.6,-.8,-1},yticklabels={0,−0.2,−0.4,−0.6,−0.8,−1},minor x tick num=1,minor y tick num=1]
\addplot[fl=pale] coordinates {(-.56,-.2)(.56,-.2)(.56,-1)(-.56,-1)};
\addplot[ps=5] coordinates {
(-.12,-.29)[.1](-.05,-.29)[.14](0,-.29)[.18](.05,-.29)[.14](.12,-.29)[.1]
(-.12,-.35)[.12](-.05,-.35)[.35](0,-.35)[.5](.05,-.35)[.35](.12,-.35)[.12]
(-.12,-.41)[.14](-.05,-.41)[.55](0,-.41)[1](.05,-.41)[.55](.12,-.41)[.14]
(-.12,-.47)[.12](-.05,-.47)[.3](0,-.47)[.55](.05,-.47)[.3](.12,-.47)[.12]
(-.12,-.58)[.1](-.05,-.58)[.12](0,-.58)[.14](.05,-.58)[.12](.12,-.58)[.1]
};
\addplot[ts=7] coordinates {
(-.56,0)[.12](-.3,0)[.15](-.15,0)[.17](0,0)[.15](.15,0)[.17](.3,0)[.15](.56,0)[.12]
(-.56,-.05)[.15](-.3,-.05)[.22](-.15,-.05)[.4](0,-.05)[.3](.15,-.05)[.4](.3,-.05)[.22](.56,-.05)[.15]
(-.56,-.09)[.18](-.3,-.09)[.3](-.15,-.09)[.45](0,-.09)[.55](.15,-.09)[.45](.3,-.09)[.3](.56,-.09)[.18]
(-.56,-.13)[.2](-.3,-.13)[.38](-.15,-.13)[.6](0,-.13)[.85](.15,-.13)[.6](.3,-.13)[.38](.56,-.13)[.2]
(-.56,-.17)[.22](-.3,-.17)[.42](-.15,-.17)[.72](0,-.17)[.5](.15,-.17)[.72](.3,-.17)[.42](.56,-.17)[.22]
(-.56,-.213)[.25](-.3,-.213)[.3](-.15,-.213)[.5](0,-.213)[.6](.15,-.213)[.5](.3,-.213)[.3](.56,-.213)[.25]
};
\addplot[line width=.5pt,black,no markers] coordinates {(-.56,-.213)(.56,-.213)};
\addplot[line width=.3pt,black,dashed,no markers] coordinates {(-.56,-.197)(.56,-.197)};
\addplot[lb] coordinates {(.066,-.43)(.2,-.444)(.32,-.59)(.376,-.75)(.32,-.875)(.22,-.875)(.16,-.68)(.066,-.43)};
\addplot[lb] coordinates {(-.066,-.43)(-.2,-.444)(-.32,-.59)(-.376,-.75)(-.32,-.875)(-.22,-.875)(-.16,-.68)(-.066,-.43)};
\addplot[arw] table {
x y u v
0 -1 0 .56
0 -.38 0 .14
-.2 -.95 .07 .12
.2 -.95 -.07 .12
-.15 -.6 .02 .06
.15 -.6 -.02 .06
-.42 -.6 .06 .02
.42 -.6 -.06 .02
};
\end{axis}

% ---------- (d)
\begin{axis}[mainax,lg={0.7594,0.9586},box={909}{1545}{718.9}{1231.7},
  xmin=-0.1,xmax=3,ymin=-3,ymax=85,
  xtick={0,0.5,1,1.5,2,2.5,3},xticklabels={0,0.5,1.0,1.5,2.0,2.5,3.0},
  ytick={0,10,20,30,40,50,60,70,80},yticklabels={0,10,20,30,40,50,60,70,80},
  minor x tick num=1,minor y tick num=1,
  xlabel={\textit{t}*},
  every axis x label/.append style={at={(axis description cs:0.5,-0.141)}},
  ylabel={\textit{p}*},
  every axis y label/.style={at={(axis description cs:-0.1447,0.485)},anchor=center,font=\fs{19},inner sep=0pt},
  legend entries={\dl{0.4},\dl{0.8},\dl{1.2}},
]
\addplot[nz,cr] coordinates {(0,1)(.01,1)(.013,60)(.017,30)(.03,6)(.045,4.6)(.055,3.5)(.07,4.5)(.075,0)(.08,.1)(.09,3)(.1,1)(.12,1.8)(.15,1.5)(.3,.7)(.5,.1)(.66,-.1)(1,-.15)(1.5,-.1)(1.65,0)(1.8,.3)(1.9,.7)(2,1.5)(2.05,2.5)(2.08,4)(2.1,7)(2.12,10)(2.14,17)(2.16,22.4)(2.18,20)(2.2,17)(2.22,15.5)(2.24,14)(2.26,14.5)(2.28,13.5)(2.3,11)(2.31,9.5)(2.32,7)(2.325,12)(2.33,5)(2.332,19.3)(2.336,3)(2.34,12)(2.345,7)(2.35,10)(2.36,6)(2.37,11)(2.375,3)(2.39,9)(2.395,2.8)(2.41,7)(2.415,2.5)(2.43,4)(2.46,3.8)(2.5,2.8)(2.55,2.2)(2.6,2)(2.75,1)(2.77,.5)(2.78,1.2)(2.8,.7)(2.82,1.1)(3,.7)};
\addplot[nz,cv] coordinates {(0,1)(.01,1)(.012,75)(.018,85)(.022,30)(.028,19)(.035,19)(.04,5)(.05,3.5)(.06,3)(.08,1.5)(.1,2)(.15,1.3)(.3,.7)(.5,.2)(.75,-.1)(1,-.1)(1.5,.2)(1.7,.4)(1.8,.7)(1.9,1.3)(1.95,2)(2,3)(2.04,4.5)(2.06,8)(2.08,14)(2.09,15)(2.105,19.3)(2.12,17)(2.14,10)(2.16,7)(2.18,6)(2.2,5.3)(2.22,4.5)(2.25,5.5)(2.27,5)(2.3,6.3)(2.33,6.9)(2.36,6)(2.4,5.8)(2.41,7)(2.43,4)(2.46,2.5)(2.48,3)(2.5,3.5)(2.53,3)(2.56,3.5)(2.58,2.2)(2.6,1.8)(2.8,1.1)(3,.5)};
\addplot[nz,cy] coordinates {(0,1)(.01,1)(.012,40)(.014,88)(.018,88)(.022,40)(.03,12)(.04,5)(.05,3)(.06,2.5)(.065,4)(.07,1.5)(.08,3)(.085,.5)(.09,4.5)(.095,1)(.1,2.5)(.11,1)(.12,2)(.15,1.3)(.2,1.1)(.3,.7)(.4,.4)(.5,.2)(.75,-.1)(1,-.1)(1.25,-.05)(1.49,.05)(1.5,.4)(1.6,.5)(1.7,.7)(1.8,1.2)(1.9,2.5)(1.95,4)(1.98,6.5)(1.99,8.5)(2,8)(2.005,11)(2.01,10)(2.025,13.8)(2.035,12)(2.05,8)(2.065,6)(2.08,4.5)(2.1,3.7)(2.12,3.5)(2.15,4)(2.18,5.8)(2.2,7.5)(2.22,8.8)(2.25,9)(2.27,8.8)(2.3,8)(2.33,6.7)(2.4,4.8)(2.45,3.7)(2.5,2.8)(2.6,1.9)(2.7,1.5)(2.8,1.2)(3,.8)};
\end{axis}

% inset t*=0.012
\begin{axis}[inset,box={996}{1180.5}{763.6}{932.5},xmin=-1.94,xmax=1.94,ymin=-3.54,ymax=0,
  xtick={-1.5,-1,-.5,0,.5,1,1.5},xticklabels={−1.5,−1,−0.5,0,0.5,1,1.5},
  ytick={0,-.5,-1,-1.5,-2,-2.5,-3,-3.5},yticklabels={0,−0.5,−1,−1.5,−2,−2.5,−3,−3.5},minor x tick num=4,minor y tick num=4]
\addplot[fl=water] coordinates {(-1.94,0)(1.94,0)(1.94,-3.54)(-1.94,-3.54)};
\addplot[ps=13] coordinates {
(0,-1.2)[.38](0,-1.2)[.38](0,-1.2)[.38](0,-1.2)[.38](0,-1.2)[.38](0,-1.2)[.38](0,-1.2)[.38](0,-1.2)[.38](0,-1.2)[.38](0,-1.2)[.38](0,-1.2)[.38](0,-1.2)[.38](0,-1.2)[.38]
(-.762,-1.2)[.25](-.736,-1.014)[.25](-.66,-.84)[.27](-.539,-.691)[.3](-.381,-.576)[.33](-.197,-.504)[.35](0,-.48)[.36](.197,-.504)[.35](.381,-.576)[.33](.539,-.691)[.3](.66,-.84)[.27](.736,-1.014)[.25](.762,-1.2)[.25]
(-1.232,-1.2)[.32](-1.19,-.899)[.38](-1.067,-.618)[.55](-.871,-.377)[.68](-.616,-.192)[.78](-.319,-.076)[.85](0,-.036)[.9](.319,-.076)[.85](.616,-.192)[.78](.871,-.377)[.68](1.067,-.618)[.55](1.19,-.899)[.38](1.232,-1.2)[.32]
(-1.321,-1.2)[0](-1.276,-.877)[0](-1.144,-.576)[0](-.934,-.318)[0](-.66,-.119)[0](-.342,.006)[0](0,.048)[0](.342,.006)[0](.66,-.119)[0](.934,-.318)[0](1.144,-.576)[0](1.276,-.877)[0](1.321,-1.2)[0]
};
\addplot[ps=13] coordinates {
(0,-1.2)[.5](0,-1.2)[.5](0,-1.2)[.5](0,-1.2)[.5](0,-1.2)[.5](0,-1.2)[.5](0,-1.2)[.5](0,-1.2)[.5](0,-1.2)[.5](0,-1.2)[.5](0,-1.2)[.5](0,-1.2)[.5](0,-1.2)[.5]
(-1.52,-1.2)[.2](-1.468,-1.61)[.2](-1.316,-1.992)[.2](-1.075,-2.32)[.2](-.76,-2.572)[.2](-.394,-2.73)[.2](0,-2.784)[.2](.394,-2.73)[.2](.76,-2.572)[.2](1.075,-2.32)[.2](1.316,-1.992)[.2](1.468,-1.61)[.2](1.52,-1.2)[.2]
(-1.824,-1.2)[.15](-1.762,-1.692)[.3](-1.58,-2.15)[.42](-1.29,-2.543)[.5](-.912,-2.845)[.5](-.472,-3.035)[.5](0,-3.1)[.5](.472,-3.035)[.5](.912,-2.845)[.5](1.29,-2.543)[.5](1.58,-2.15)[.42](1.762,-1.692)[.3](1.824,-1.2)[.15]
(-1.957,-1.2)[0](-1.89,-1.728)[0](-1.695,-2.22)[0](-1.384,-2.642)[0](-.979,-2.967)[0](-.507,-3.17)[0](0,-3.24)[0](.507,-3.17)[0](.979,-2.967)[0](1.384,-2.642)[0](1.695,-2.22)[0](1.89,-1.728)[0](1.957,-1.2)[0]
};
\addplot[line width=.45pt,black!70!blue,no markers] coordinates {(-1.94,-1.195)(1.94,-1.195)};
\addplot[line width=.3pt,red!70!black,no markers,smooth] coordinates {(-.5,-1.195)(-.2,-1.16)(0,-1.12)(.2,-1.16)(.5,-1.195)};
\addplot[line width=.4pt,black!85,no markers,smooth] coordinates {(0,-1.13)(.15,-1.17)(.21,-1.3)(.15,-1.45)(0,-1.51)(-.15,-1.45)(-.21,-1.3)(-.15,-1.17)(0,-1.13)};
\addplot[arw] table {
x y u v
0 -1.1 0 .4
0 -1.55 0 -.5
.22 -1.1 .1 .12
-.22 -1.1 -.1 .12
.3 -1.3 .2 0
-.3 -1.3 -.2 0
.2 -1.5 .14 -.15
-.2 -1.5 -.14 -.15
};
\end{axis}

% inset t*=2.118
\begin{axis}[inset,box={1234.5}{1407.5}{858.6}{1016},xmin=-1.3,xmax=1.3,ymin=-2.37,ymax=0,
  xtick={-1,-.5,0,.5,1},xticklabels={−1,−0.5,0,0.5,1},
  ytick={0,-.5,-1,-1.5,-2},yticklabels={0,−0.5,−1,−1.5,−2},minor x tick num=4,minor y tick num=4]
\addplot[ts=7] coordinates {
(-1.3,0)[.03](-.6,0)[.03](-.25,0)[.05](0,0)[.07](.25,0)[.05](.6,0)[.03](1.3,0)[.03]
(-1.3,-.12)[.03](-.6,-.12)[.05](-.25,-.12)[.12](0,-.12)[.22](.25,-.12)[.12](.6,-.12)[.05](1.3,-.12)[.03]
(-1.3,-.26)[.04](-.6,-.26)[.05](-.25,-.26)[.12](0,-.26)[.2](.25,-.26)[.12](.6,-.26)[.05](1.3,-.26)[.04]
(-1.3,-.33)[.05](-.6,-.33)[.07](-.25,-.33)[.18](0,-.33)[.72](.25,-.33)[.18](.6,-.33)[.07](1.3,-.33)[.05]
(-1.3,-.46)[.06](-.6,-.46)[.1](-.25,-.46)[.2](0,-.46)[.6](.25,-.46)[.2](.6,-.46)[.1](1.3,-.46)[.06]
};
\addplot[ps=9] coordinates {
(-1.3,-.41)[.02](-.6,-.46)[.05](-.3,-.425)[.15](-.1,-.38)[.4](0,-.34)[.5](.1,-.38)[.4](.3,-.425)[.15](.6,-.46)[.05](1.3,-.41)[.02]
(-1.3,-.9)[.03](-.6,-.9)[.08](-.3,-.9)[.15](-.1,-.9)[.2](0,-.9)[.25](.1,-.9)[.2](.3,-.9)[.15](.6,-.9)[.08](1.3,-.9)[.03]
(-1.3,-1.4)[.03](-.6,-1.4)[.08](-.3,-1.4)[.14](-.1,-1.4)[.18](0,-1.4)[.2](.1,-1.4)[.18](.3,-1.4)[.14](.6,-1.4)[.08](1.3,-1.4)[.03]
(-1.3,-1.9)[.02](-.6,-1.9)[.05](-.3,-1.9)[.08](-.1,-1.9)[.1](0,-1.9)[.1](.1,-1.9)[.1](.3,-1.9)[.08](.6,-1.9)[.05](1.3,-1.9)[.02]
(-1.3,-2.37)[.01](-.6,-2.37)[.02](-.3,-2.37)[.03](-.1,-2.37)[.04](0,-2.37)[.04](.1,-2.37)[.04](.3,-2.37)[.03](.6,-2.37)[.02](1.3,-2.37)[.01]
};
\addplot[ps=5] coordinates {
(-.2,-.4)[.2](-.09,-.4)[.45](0,-.4)[.7](.09,-.4)[.45](.2,-.4)[.2]
(-.2,-.46)[.3](-.09,-.46)[.8](0,-.46)[1](.09,-.46)[.8](.2,-.46)[.3]
(-.2,-.53)[.3](-.09,-.53)[.8](0,-.53)[1](.09,-.53)[.8](.2,-.53)[.3]
(-.2,-.62)[.25](-.09,-.62)[.42](0,-.62)[.6](.09,-.62)[.42](.2,-.62)[.25]
(-.2,-.72)[.18](-.09,-.72)[.22](0,-.72)[.25](.09,-.72)[.22](.2,-.72)[.18]
};
\addplot[line width=.4pt,black!55!brown,no markers,smooth] coordinates {(-1.3,-.41)(-.9,-.44)(-.6,-.46)(-.3,-.425)(-.1,-.38)(0,-.34)(.1,-.38)(.3,-.425)(.6,-.46)(.9,-.44)(1.3,-.41)};
\addplot[lb] coordinates {(.08,-.56)(.1,-.72)(.1,-.9)(.2,-.94)(.35,-.85)(.37,-.7)(.25,-.6)(.08,-.56)};
\addplot[lb] coordinates {(-.08,-.56)(-.1,-.72)(-.1,-.9)(-.2,-.94)(-.35,-.85)(-.37,-.7)(-.25,-.6)(-.08,-.56)};
\addplot[arw] table {
x y u v
0 -1.05 0 .62
0 -1.4 0 .2
.15 -1 -.05 .07
-.15 -1 .05 .07
.3 -1 .07 .03
-.3 -1 -.07 .03
.15 -1.3 -.02 .06
-.15 -1.3 .02 .06
};
\end{axis}

% inset t*=1.967
\begin{axis}[inset,box={1020}{1205}{998.3}{1166.3},xmin=-1.3,xmax=1.3,ymin=-2.37,ymax=0,
  every axis x label/.append style={at={(axis description cs:0.5,-0.075)}},
  xtick={-1,-.5,0,.5,1},xticklabels={−1,−0.5,0,0.5,1},
  ytick={0,-.5,-1,-1.5,-2},yticklabels={0,−0.5,−1,−1.5,−2},minor x tick num=4,minor y tick num=4]
\addplot[ts=13] coordinates {
(-1.3,0)[.01](-.9,0)[.03](-.6,0)[.05](-.45,0)[.05](-.3,0)[.06](-.15,0)[.07](0,0)[.07](.15,0)[.07](.3,0)[.06](.45,0)[.05](.6,0)[.05](.9,0)[.03](1.3,0)[.01]
(-1.3,-.4)[.03](-.9,-.4)[.07](-.6,-.4)[.11](-.45,-.4)[.13](-.3,-.4)[.15](-.15,-.4)[.16](0,-.4)[.16](.15,-.4)[.16](.3,-.4)[.15](.45,-.4)[.13](.6,-.4)[.11](.9,-.4)[.07](1.3,-.4)[.03]
(-1.3,-.7)[.05](-.9,-.7)[.12](-.6,-.7)[.2](-.45,-.7)[.26](-.3,-.7)[.3](-.15,-.7)[.33](0,-.7)[.34](.15,-.7)[.33](.3,-.7)[.3](.45,-.7)[.26](.6,-.7)[.2](.9,-.7)[.12](1.3,-.7)[.05]
(-1.3,-.85)[.06](-.9,-.85)[.15](-.6,-.85)[.27](-.45,-.85)[.34](-.3,-.85)[.48](-.15,-.85)[.63](0,-.85)[.68](.15,-.85)[.63](.3,-.85)[.48](.45,-.85)[.34](.6,-.85)[.27](.9,-.85)[.15](1.3,-.85)[.06]
(-1.3,-.95)[.06](-.9,-.95)[.16](-.6,-.95)[.3](-.45,-.95)[.45](-.3,-.95)[.68](-.15,-.95)[.8](0,-.95)[.8](.15,-.95)[.8](.3,-.95)[.68](.45,-.95)[.45](.6,-.95)[.3](.9,-.95)[.16](1.3,-.95)[.06]
(-1.3,-1.05)[.07](-.9,-1.05)[.17](-.6,-1.05)[.34](-.45,-1.05)[.58](-.3,-1.05)[.8](-.15,-1.05)[.8](0,-1.05)[.8](.15,-1.05)[.8](.3,-1.05)[.8](.45,-1.05)[.58](.6,-1.05)[.34](.9,-1.05)[.17](1.3,-1.05)[.07]
(-1.3,-1.3)[.07](-.9,-1.3)[.2](-.6,-1.3)[.42](-.45,-1.3)[.78](-.3,-1.3)[.8](-.15,-1.3)[.8](0,-1.3)[.8](.15,-1.3)[.8](.3,-1.3)[.8](.45,-1.3)[.78](.6,-1.3)[.42](.9,-1.3)[.2](1.3,-1.3)[.07]
};
\addplot[fl=water] coordinates {(-1.3,-1.208)(-.8,-1.28)(-.65,-1.27)(-.5,-1.21)(-.43,-1.12)(-.35,-1.03)(-.2,-.965)(0,-.94)(.2,-.965)(.35,-1.03)(.43,-1.12)(.5,-1.21)(.65,-1.27)(.8,-1.28)(1.3,-1.208)(1.3,-2.37)(-1.3,-2.37)};
\addplot[ps=5] coordinates {
(-.2,-1.38)[0](-.08,-1.38)[.02](0,-1.38)[.1](.08,-1.38)[.02](.2,-1.38)[0]
(-.2,-1.47)[.02](-.08,-1.47)[.3](0,-1.47)[.55](.08,-1.47)[.3](.2,-1.47)[.02]
(-.2,-1.55)[.05](-.08,-1.55)[.5](0,-1.55)[.6](.08,-1.55)[.5](.2,-1.55)[.05]
(-.2,-1.64)[.02](-.08,-1.64)[.3](0,-1.64)[.45](.08,-1.64)[.3](.2,-1.64)[.02]
(-.2,-1.75)[0](-.08,-1.75)[.02](0,-1.75)[.05](.08,-1.75)[.02](.2,-1.75)[0]
};
\addplot[line width=.4pt,black!50!brown,no markers,smooth] coordinates {(-1.3,-1.208)(-.8,-1.28)(-.65,-1.27)(-.5,-1.21)(-.43,-1.12)(-.35,-1.03)(-.2,-.965)(0,-.94)(.2,-.965)(.35,-1.03)(.43,-1.12)(.5,-1.21)(.65,-1.27)(.8,-1.28)(1.3,-1.208)};
\addplot[lb] coordinates {(-.43,-1.12)(-.38,-1.25)(-.2,-1.4)(0,-1.5)(.2,-1.4)(.38,-1.25)(.43,-1.12)};
\addplot[lb] coordinates {(-.15,-1.06)(-.3,-1.1)(-.3,-1.2)(-.18,-1.18)(-.15,-1.06)};
\addplot[lb] coordinates {(.15,-1.06)(.3,-1.1)(.3,-1.2)(.18,-1.18)(.15,-1.06)};
\addplot[line width=.35pt,bubline,no markers] coordinates {(-.15,-1.27)(.15,-1.27)};
\addplot[arw] table {
x y u v
0 -1.45 0 .7
0 -1.25 0 .3
-.05 -.95 .04 .2
.05 -.95 -.04 .2
-.3 -1.6 .05 .05
.3 -1.6 -.05 .05
-.15 -1.45 -.06 .04
.15 -1.45 .06 .04
-.3 -1.38 -.06 .02
.3 -1.38 .06 .02
};
\end{axis}

% annotations, in reference display coordinates
\begin{scope}[x=0.5pt,y=-0.5pt,shift={(0pt,661.85pt)}]
% panel letters
\node[font=\fs{19},inner sep=0pt] at (22.5,22) {(\textit{a})};
\node[font=\fs{19},inner sep=0pt] at (816.5,22) {(\textit{b})};
\node[font=\fs{19},inner sep=0pt] at (22.5,697.8) {(\textit{c})};
\node[font=\fs{19},inner sep=0pt] at (816.5,695.7) {(\textit{d})};

% arrows
\tikzset{an/.style={-{Latex[length=5.5pt,width=4.5pt]},line width=.75pt}}
\draw[an,arrowy] (316,79.4) -- (308.5,137.2);
\draw[an,arrowy] (491,449.5) -- (423,449.5);
\draw[an,cy] (1144.5,547.5) -- (1115,460);
\draw[an,arrowv] (1297.5,310) -- (1222.5,217.4);
\draw[an,red] (1403.5,78) -- (1365.5,355.8);
\draw[an,black] (654,825.7) -- (535,813.9);
\draw[an,black] (939,737) -- (1081.5,766.6);
\draw[an,red] (1368,1081) -- (1334,1031);
\draw[an,arrowy] (1334,1169.3) -- (1210,1141);

% text
\node[font=\fs{14.6},anchor=west,inner sep=0pt] at (1375,324) {\textit{δ} increasing};
\node[font=\fs{16},anchor=west,inner sep=0pt] at (146,835) {Initial interface};
\node[font=\fs{16},anchor=west,inner sep=0pt] at (544,753.5) {Bubble};
\node[font=\fs{16},anchor=west,inner sep=0pt] at (544,795) {adsorption};
\node[font=\fs{16},anchor=west,inner sep=0pt] at (138.5,1193) {Solid wall};
\node[font=\fs{12.3},inner sep=0pt] at (1084,868.3) {Shock wave};
\node[font=\fs{12.5},inner sep=0pt] at (1126.5,1199) {Annular jet shock wave};

% inset colour bars
\tikzset{bl/.style={font=\fs{6},inner sep=0pt,anchor=east}}
\cbar{234.5}{303.3}{139}{149}{pbar}{156}{0.0,0.1,0.2,0.3,0.4}
\cbar{326}{396.6}{139}{149}{tbar}{156}{0.00,0.02,0.03,0.05,0.07}
\node[bl] at (233,146) {\textit{p}*};
\node[bl] at (325,146) {|\textit{τ}|*};
\node[font=\fs{4},fill=white,inner sep=.7pt,anchor=north east] at (403,160) {\textit{t}*=0.974};

\cbar{250.5}{319}{347.2}{357.4}{pbar}{363.3}{1.8,18.0,35.9,51.3,65.3}
\cbar{341.7}{411.6}{347.2}{357.4}{tbar}{363.3}{0.0,5.5,10.6,16.7,21.3}
\node[bl] at (249,354) {\textit{p}*};
\node[bl] at (340.5,354) {|\textit{τ}|*};
\node[font=\fs{4},fill=white,inner sep=.7pt,anchor=north east] at (418,367.8) {\textit{t}*=2.009};

\cbar{1046}{1117}{59.5}{70}{pbar}{75}{2.0,14.5,28.3,40.3,51.2}
\cbar{1140}{1213}{59.5}{70}{tbar}{75}{0.0,2.8,5.4,8.5,10.8}
\node[bl] at (1044.5,67) {\textit{p}*};
\node[bl] at (1138.5,66) {|\textit{τ}|*};
\node[font=\fs{4},fill=white,inner sep=.7pt,anchor=north east] at (1219.5,81.2) {\textit{t}*=2.073};

\cbar{995.5}{1063}{272}{282.4}{pbar}{288.3}{0.1,0.1,0.3,0.3,0.4}
\cbar{1086}{1155.5}{272}{282.4}{tbar}{288.3}{0.00,0.02,0.04,0.07,0.09}
\node[bl] at (994,279) {\textit{p}*};
\node[bl] at (1085,279) {|\textit{τ}|*};
\node[font=\fs{4},fill=white,inner sep=.7pt,anchor=north east] at (1161.5,292.7) {\textit{t}*=1.201};

\renewcommand{\lbl}{3.3}
\cbar{392}{446.5}{732}{740.4}{pbar}{745}{0.1,20.3,42.6,62.0,79.6}
\cbar{465}{521}{732}{740.4}{tbar}{745}{0.00,0.07,0.14,0.21,0.27}
\renewcommand{\lbl}{4}
\node[bl,font=\fs{5}] at (391,737) {\textit{p}*};
\node[bl,font=\fs{5}] at (464,737) {|\textit{τ}|*};
\node[font=\fs{3.3},fill=white,inner sep=.5pt,anchor=north east] at (526.5,748.4) {\textit{t}*=2.137};

\cbar{1026.5}{1152.5}{743.8}{753.9}{pbar}{759.9}{1.0,15.5,31.7,45.6,58.2}
\node[bl] at (1025,751) {\textit{p}*};
\node[font=\fs{4},fill=white,inner sep=.7pt,anchor=north east] at (1179.5,764.6) {\textit{t}*=0.012};

\cbar{1247.5}{1312.5}{840}{849.7}{pbar}{855.2}{1.5,10.6,20.7,29.4,37.3}
\cbar{1334}{1400}{840}{849.7}{tbar}{855.2}{0.00,0.20,0.39,0.61,0.78}
\node[bl] at (1246,847) {\textit{p}*};
\node[bl] at (1333,846) {|\textit{τ}|*};
\node[font=\fs{4},fill=white,inner sep=.7pt,anchor=north east] at (1406.5,859.6) {\textit{t}*=2.118};

\cbar{1033.5}{1103}{978}{988.6}{pbar}{994.5}{1,131,274,398,510}
\cbar{1126}{1197.5}{978}{988.6}{tbar}{994.5}{0.00,0.13,0.25,0.39,0.50}
\node[bl] at (1032,985) {\textit{p}*};
\node[bl] at (1125,985) {|\textit{τ}|*};
\node[font=\fs{4},fill=white,inner sep=.7pt,anchor=north east] at (1204,999.3) {\textit{t}*=1.967};
\end{scope}
\end{tikzpicture}
\end{document}
